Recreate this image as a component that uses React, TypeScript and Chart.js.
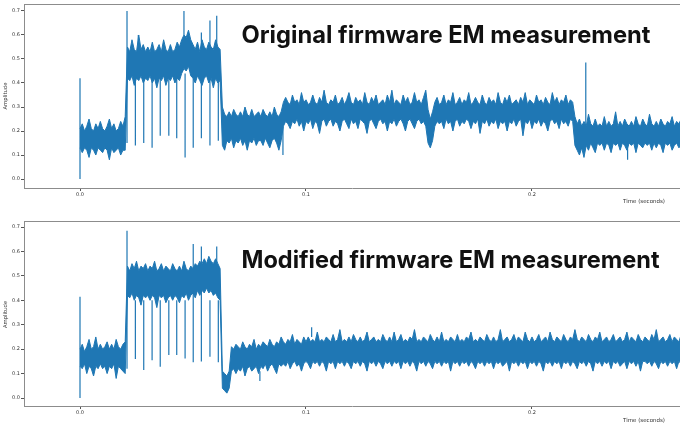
import React, { useEffect, useRef } from "react";
import { Chart, registerables } from "chart.js";

Chart.register(...registerables);

// ---------------- data ----------------
const SAMPLE_STEP = 0.001; // seconds between envelope samples
const xTicks = [0, 0.1, 0.2];
const yTicks = [0, 0.1, 0.2, 0.3, 0.4, 0.5, 0.6, 0.7];

// Original firmware: upper / lower envelope of the trace, one value per 1 ms
const topHi = [
  0.21,0.23,0.20,0.22,0.25,0.21,0.20,0.23,0.21,0.24,
  0.21,0.20,0.22,0.25,0.21,0.23,0.20,0.21,0.24,0.22,
  0.26,0.55,0.53,0.58,0.54,0.53,0.60,0.54,0.56,0.53,
  0.55,0.53,0.57,0.53,0.54,0.56,0.53,0.58,0.54,0.53,
  0.56,0.53,0.54,0.57,0.55,0.58,0.60,0.59,0.62,0.58,
  0.56,0.54,0.57,0.53,0.58,0.55,0.54,0.57,0.55,0.54,
  0.58,0.55,0.54,0.30,0.27,0.26,0.28,0.26,0.29,0.27,
  0.26,0.28,0.26,0.30,0.27,0.26,0.29,0.26,0.27,0.28,
  0.26,0.29,0.27,0.26,0.28,0.26,0.30,0.27,0.26,0.28,
  0.32,0.34,0.32,0.31,0.35,0.32,0.33,0.31,0.36,0.32,
  0.33,0.31,0.32,0.35,0.32,0.31,0.34,0.32,0.37,0.32,
  0.31,0.33,0.32,0.35,0.31,0.32,0.34,0.31,0.33,0.36,
  0.32,0.31,0.34,0.32,0.33,0.31,0.36,0.32,0.31,0.34,
  0.32,0.35,0.31,0.32,0.33,0.31,0.35,0.32,0.37,0.31,
  0.33,0.32,0.31,0.35,0.32,0.34,0.31,0.32,0.36,0.32,
  0.33,0.31,0.34,0.37,0.29,0.25,0.28,0.32,0.34,0.31,
  0.32,0.35,0.31,0.33,0.32,0.36,0.31,0.32,0.34,0.31,
  0.33,0.32,0.36,0.31,0.32,0.34,0.32,0.31,0.35,0.32,
  0.31,0.34,0.32,0.33,0.31,0.36,0.32,0.31,0.34,0.32,
  0.35,0.31,0.32,0.33,0.31,0.34,0.32,0.36,0.31,0.33,
  0.32,0.31,0.35,0.32,0.33,0.31,0.34,0.32,0.31,0.36,
  0.32,0.34,0.31,0.33,0.32,0.35,0.31,0.33,0.32,0.26,
  0.23,0.25,0.22,0.24,0.22,0.27,0.23,0.22,0.25,0.22,
  0.23,0.22,0.26,0.22,0.24,0.22,0.23,0.28,0.22,0.24,
  0.22,0.25,0.23,0.22,0.24,0.22,0.26,0.23,0.22,0.25,
  0.23,0.22,0.27,0.23,0.22,0.24,0.22,0.25,0.23,0.22,
  0.24,0.23,0.26,0.22,0.24,0.23,0.25,
];
const topLo = [
  0.13,0.11,0.13,0.12,0.09,0.13,0.12,0.10,0.13,0.12,
  0.11,0.13,0.12,0.08,0.13,0.11,0.12,0.13,0.10,0.12,
  0.12,0.42,0.41,0.43,0.39,0.42,0.41,0.43,0.40,0.42,
  0.41,0.43,0.40,0.42,0.38,0.42,0.41,0.43,0.39,0.42,
  0.41,0.43,0.40,0.42,0.41,0.44,0.46,0.45,0.47,0.43,
  0.42,0.40,0.43,0.41,0.39,0.42,0.43,0.40,0.42,0.38,
  0.42,0.40,0.41,0.14,0.12,0.16,0.15,0.17,0.13,0.16,
  0.15,0.17,0.14,0.16,0.12,0.16,0.15,0.17,0.14,0.16,
  0.16,0.14,0.17,0.15,0.13,0.16,0.17,0.15,0.12,0.16,
  0.22,0.24,0.23,0.21,0.24,0.23,0.25,0.22,0.24,0.20,
  0.24,0.23,0.25,0.21,0.24,0.23,0.19,0.24,0.25,0.22,
  0.24,0.25,0.22,0.24,0.23,0.20,0.24,0.25,0.23,0.21,
  0.25,0.23,0.24,0.21,0.25,0.24,0.23,0.19,0.24,0.25,
  0.23,0.21,0.24,0.25,0.23,0.24,0.20,0.24,0.23,0.25,
  0.22,0.24,0.25,0.23,0.20,0.24,0.25,0.23,0.21,0.24,
  0.25,0.23,0.24,0.22,0.15,0.13,0.16,0.22,0.24,0.23,
  0.24,0.21,0.25,0.23,0.24,0.20,0.24,0.25,0.22,0.24,
  0.23,0.25,0.24,0.21,0.24,0.23,0.25,0.19,0.24,0.23,
  0.25,0.22,0.24,0.23,0.25,0.21,0.24,0.23,0.24,0.20,
  0.24,0.23,0.25,0.22,0.24,0.25,0.18,0.24,0.23,0.25,
  0.21,0.24,0.23,0.25,0.22,0.24,0.23,0.20,0.24,0.25,
  0.23,0.24,0.21,0.25,0.23,0.24,0.22,0.25,0.24,0.14,
  0.12,0.10,0.13,0.09,0.14,0.12,0.15,0.13,0.11,0.15,
  0.14,0.15,0.12,0.15,0.14,0.11,0.15,0.14,0.15,0.12,
  0.15,0.14,0.12,0.15,0.14,0.15,0.11,0.15,0.14,0.13,
  0.15,0.14,0.15,0.12,0.15,0.13,0.15,0.14,0.11,0.15,
  0.14,0.15,0.12,0.14,0.15,0.13,0.14,
];
// Original firmware: narrow spikes (time, from, to)
const topSpikeT =    [0.0,  0.0208, 0.0245, 0.0258, 0.0282, 0.0319, 0.0355, 0.0393, 0.0428, 0.0460, 0.0465, 0.0501, 0.0537, 0.0575, 0.0605, 0.0612, 0.0898, 0.2238, 0.2423];
const topSpikeFrom = [0.0,  0.15,   0.42,   0.55,   0.42,   0.42,   0.42,   0.42,   0.42,   0.60,   0.44,   0.42,   0.17,   0.14,   0.55,   0.42,   0.22,   0.22,   0.15];
const topSpikeTo =   [0.42, 0.70,   0.14,   0.60,   0.15,   0.13,   0.18,   0.18,   0.17,   0.70,   0.09,   0.13,   0.61,   0.66,   0.68,   0.16,   0.10,   0.485,  0.08];

// Modified firmware
const botHi = [
  0.20,0.22,0.19,0.21,0.24,0.20,0.21,0.25,0.20,0.22,
  0.20,0.21,0.23,0.20,0.22,0.20,0.24,0.21,0.20,0.22,
  0.23,0.54,0.52,0.55,0.53,0.56,0.52,0.54,0.53,0.55,
  0.52,0.54,0.53,0.56,0.52,0.53,0.55,0.52,0.54,0.53,
  0.52,0.55,0.53,0.52,0.54,0.52,0.56,0.53,0.52,0.54,
  0.53,0.55,0.54,0.56,0.55,0.57,0.55,0.58,0.56,0.55,
  0.57,0.55,0.53,0.11,0.10,0.09,0.11,0.21,0.20,0.22,
  0.21,0.20,0.23,0.21,0.20,0.22,0.21,0.24,0.20,0.22,
  0.21,0.23,0.22,0.21,0.24,0.22,0.21,0.23,0.22,0.25,
  0.23,0.22,0.24,0.23,0.26,0.22,0.24,0.23,0.22,0.25,
  0.23,0.25,0.23,0.24,0.23,0.27,0.23,0.24,0.23,0.25,
  0.24,0.23,0.26,0.23,0.24,0.28,0.23,0.24,0.23,0.25,
  0.23,0.26,0.24,0.23,0.25,0.23,0.24,0.27,0.23,0.24,
  0.25,0.23,0.24,0.23,0.26,0.24,0.23,0.25,0.23,0.27,
  0.23,0.24,0.26,0.23,0.24,0.23,0.25,0.24,0.28,0.23,
  0.24,0.23,0.25,0.24,0.23,0.26,0.24,0.23,0.25,0.23,
  0.27,0.23,0.24,0.23,0.25,0.24,0.23,0.26,0.23,0.24,
  0.23,0.25,0.24,0.27,0.23,0.24,0.23,0.25,0.24,0.23,
  0.26,0.24,0.23,0.25,0.23,0.24,0.28,0.23,0.24,0.25,
  0.23,0.24,0.26,0.23,0.25,0.24,0.23,0.27,0.24,0.23,
  0.25,0.23,0.24,0.26,0.23,0.24,0.25,0.23,0.27,0.24,
  0.23,0.25,0.24,0.23,0.26,0.24,0.23,0.25,0.24,0.28,
  0.24,0.23,0.25,0.24,0.23,0.26,0.24,0.23,0.25,0.24,
  0.27,0.23,0.24,0.25,0.23,0.24,0.26,0.23,0.24,0.25,
  0.23,0.24,0.27,0.23,0.25,0.24,0.23,0.26,0.24,0.23,
  0.25,0.24,0.23,0.26,0.24,0.28,0.23,0.24,0.25,0.23,
  0.24,0.26,0.23,0.25,0.24,0.23,0.26,
];
const botLo = [
  0.13,0.12,0.14,0.10,0.13,0.12,0.09,0.13,0.12,0.14,
  0.12,0.13,0.10,0.13,0.12,0.14,0.08,0.13,0.12,0.11,
  0.10,0.42,0.41,0.43,0.40,0.42,0.41,0.38,0.42,0.41,
  0.42,0.40,0.42,0.41,0.37,0.42,0.41,0.42,0.39,0.41,
  0.42,0.40,0.42,0.41,0.39,0.42,0.41,0.43,0.40,0.42,
  0.43,0.41,0.44,0.42,0.44,0.43,0.45,0.43,0.44,0.42,
  0.43,0.41,0.40,0.04,0.03,0.02,0.04,0.11,0.12,0.10,
  0.12,0.11,0.13,0.09,0.12,0.13,0.11,0.12,0.13,0.10,
  0.13,0.12,0.14,0.11,0.13,0.14,0.12,0.10,0.14,0.13,
  0.14,0.13,0.15,0.12,0.14,0.15,0.13,0.14,0.11,0.14,
  0.15,0.14,0.12,0.15,0.14,0.15,0.13,0.15,0.14,0.11,
  0.15,0.14,0.15,0.12,0.15,0.14,0.15,0.13,0.15,0.14,
  0.12,0.15,0.14,0.15,0.13,0.15,0.14,0.11,0.15,0.14,
  0.15,0.13,0.15,0.14,0.12,0.15,0.14,0.15,0.13,0.15,
  0.14,0.15,0.12,0.15,0.14,0.15,0.13,0.15,0.14,0.11,
  0.15,0.14,0.15,0.13,0.15,0.14,0.12,0.15,0.14,0.15,
  0.13,0.15,0.14,0.15,0.11,0.15,0.14,0.15,0.13,0.15,
  0.14,0.15,0.13,0.15,0.14,0.12,0.15,0.14,0.15,0.13,
  0.15,0.14,0.15,0.12,0.15,0.14,0.15,0.13,0.14,0.15,
  0.11,0.15,0.14,0.15,0.13,0.15,0.14,0.15,0.12,0.15,
  0.14,0.15,0.13,0.15,0.14,0.11,0.15,0.14,0.15,0.13,
  0.15,0.14,0.15,0.12,0.15,0.14,0.15,0.13,0.15,0.14,
  0.12,0.15,0.14,0.15,0.13,0.15,0.14,0.11,0.15,0.14,
  0.15,0.13,0.15,0.14,0.15,0.12,0.15,0.14,0.15,0.13,
  0.14,0.15,0.12,0.15,0.14,0.15,0.13,0.15,0.11,0.15,
  0.15,0.14,0.15,0.13,0.15,0.14,0.12,0.15,0.14,0.15,
  0.13,0.15,0.14,0.15,0.12,0.15,0.14,
];
const botSpikeT =    [0.0,   0.0208, 0.0245, 0.0282, 0.0319, 0.0355, 0.0393, 0.0428, 0.0465, 0.0501, 0.0537, 0.0575, 0.0605, 0.0612, 0.0796, 0.1025];
const botSpikeFrom = [0.0,   0.12,   0.40,   0.40,   0.40,   0.40,   0.40,   0.40,   0.40,   0.146,  0.149,  0.40,   0.55,   0.40,   0.11,   0.25];
const botSpikeTo =   [0.415, 0.685,  0.16,   0.115,  0.155,  0.128,  0.176,  0.176,  0.162,  0.63,   0.62,   0.169,  0.62,   0.146,  0.07,   0.29];

// ---------------- drawing ----------------
const BLUE = "#1f77b4";
const SPINE = "#8c8c8c";
const X_MIN = -0.02478;
const X_MAX = 0.26549;

function envelope(values: number[]) {
  return values.map((y, i) => ({ x: Number((i * SAMPLE_STEP).toFixed(4)), y }));
}
function spikes(t: number[], from: number[], to: number[]) {
  const out: { x: number; y: number | null }[] = [];
  t.forEach((tt, i) => {
    out.push({ x: tt, y: from[i] }, { x: tt, y: to[i] }, { x: tt, y: null });
  });
  return out;
}

type PanelProps = {
  hi: number[];
  lo: number[];
  st: number[];
  sf: number[];
  sto: number[];
  height: number;
  padTop: number;
  yMin: number;
  yMax: number;
  title: string;
  titleBaseline: number;
  titleWidth: number;
  ampY: number;
  timeY: number;
};

function Panel(p: PanelProps) {
  const ref = useRef<HTMLCanvasElement | null>(null);
  useEffect(() => {
    if (!ref.current) return;
    const decor = {
      id: "decor",
      afterDraw(chart: any) {
        const { ctx, chartArea } = chart;
        ctx.save();
        ctx.strokeStyle = SPINE;
        ctx.lineWidth = 1;
        ctx.beginPath();
        ctx.moveTo(chartArea.left, Math.round(chartArea.top) + 0.5);
        ctx.lineTo(chartArea.right, Math.round(chartArea.top) + 0.5);
        ctx.stroke();
        // y label
        ctx.fillStyle = "#333";
        ctx.font = '5.3px "DejaVu Sans"';
        ctx.textAlign = "center";
        ctx.textBaseline = "middle";
        ctx.save();
        ctx.translate(6, p.ampY);
        ctx.rotate(-Math.PI / 2);
        ctx.fillText("Amplitude", 0, 0);
        ctx.restore();
        // x label
        ctx.font = '5.5px "DejaVu Sans"';
        ctx.textAlign = "right";
        ctx.fillText("Time (seconds)", 665, p.timeY);
        // big title
        ctx.fillStyle = "#111";
        ctx.font = 'bold 24px "Inter"';
        ctx.textAlign = "left";
        ctx.textBaseline = "alphabetic";
        const w = ctx.measureText(p.title).width;
        ctx.translate(241.5, p.titleBaseline);
        ctx.scale(p.titleWidth / w, 1);
        ctx.fillText(p.title, 0, 0);
        ctx.restore();
      },
    };
    const tickFont = { size: 5, family: "DejaVu Sans" };
    const chart = new Chart(ref.current, {
      type: "line",
      data: {
        datasets: [
          {
            data: envelope(p.hi),
            borderColor: BLUE,
            backgroundColor: BLUE,
            borderWidth: 1,
            pointRadius: 0,
            fill: "+1",
            tension: 0,
          },
          {
            data: envelope(p.lo),
            borderColor: BLUE,
            backgroundColor: BLUE,
            borderWidth: 1,
            pointRadius: 0,
            fill: false,
            tension: 0,
          },
          {
            data: spikes(p.st, p.sf, p.sto),
            borderColor: BLUE,
            borderWidth: 1.2,
            pointRadius: 0,
            fill: false,
            spanGaps: false,
          },
        ],
      },
      options: {
        animation: false,
        responsive: false,
        devicePixelRatio: 1,
        parsing: false as any,
        layout: { padding: { top: p.padTop, left: 0, right: 0, bottom: 0 } },
        plugins: { legend: { display: false }, tooltip: { enabled: false } },
        scales: {
          x: {
            type: "linear",
            min: X_MIN,
            max: X_MAX,
            afterBuildTicks: (s: any) => {
              s.ticks = xTicks.map((v) => ({ value: v }));
            },
            afterFit: (s: any) => {
              s.height = p.height - p.padTop - 185;
            },
            ticks: {
              font: tickFont,
              color: "#333",
              padding: 1,
              maxRotation: 0,
              autoSkip: false,
              callback: (v: any) => Number(v).toFixed(1),
            },
            grid: { drawOnChartArea: false, tickLength: 3, tickColor: "#555" },
            border: { color: SPINE, width: 1 },
          },
          y: {
            type: "linear",
            min: p.yMin,
            max: p.yMax,
            afterBuildTicks: (s: any) => {
              s.ticks = yTicks.map((v) => ({ value: v }));
            },
            afterFit: (s: any) => {
              s.width = 24;
            },
            ticks: {
              font: tickFont,
              color: "#333",
              padding: 1,
              autoSkip: false,
              callback: (v: any) => Number(v).toFixed(1),
            },
            grid: { drawOnChartArea: false, tickLength: 3, tickColor: "#555" },
            border: { color: SPINE, width: 1 },
          },
        },
      },
      plugins: [decor],
    } as any);
    return () => chart.destroy();
  }, []);
  return <canvas ref={ref} width={680} height={p.height} style={{ display: "block", width: 680, height: p.height }} />;
}

export default function App() {
  useEffect(() => {
    document.body.style.margin = "0";
    document.body.style.background = "#fff";
  }, []);
  return (
    <div style={{ position: "absolute", left: 0, top: 0, width: 680, height: 432, background: "#fff" }}>
      <Panel
        hi={topHi}
        lo={topLo}
        st={topSpikeT}
        sf={topSpikeFrom}
        sto={topSpikeTo}
        height={215}
        padTop={3}
        yMin={-0.0373}
        yMax={0.729}
        title="Original firmware EM measurement"
        titleBaseline={43}
        titleWidth={409}
        ampY={96}
        timeY={201.5}
      />
      <Panel
        hi={botHi}
        lo={botLo}
        st={botSpikeT}
        sf={botSpikeFrom}
        sto={botSpikeTo}
        height={217}
        padTop={6}
        yMin={-0.0327}
        yMax={0.7246}
        title="Modified firmware EM measurement"
        titleBaseline={53}
        titleWidth={418}
        ampY={99.5}
        timeY={205.5}
      />
    </div>
  );
}
